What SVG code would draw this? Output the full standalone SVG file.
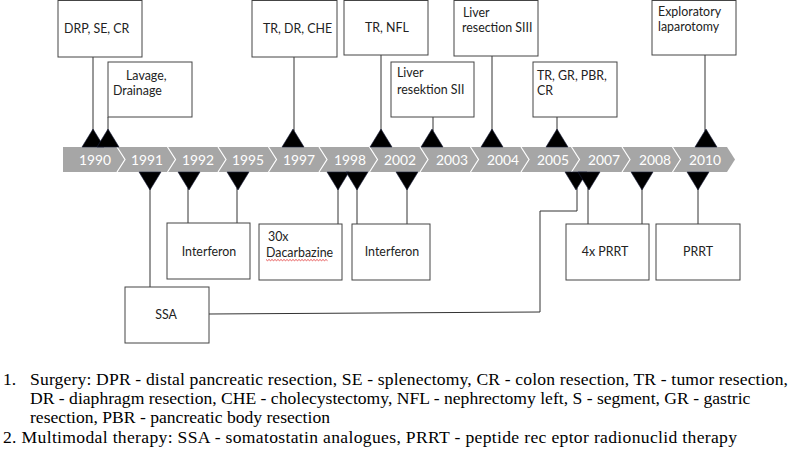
<svg xmlns="http://www.w3.org/2000/svg" width="797" height="451" viewBox="0 0 797 451">
<style>
.box{fill:#fff;stroke:#444;stroke-width:1}
.lbl{font-family:Lato,"Open Sans","Liberation Sans",sans-serif;font-size:12.4px;fill:#222}
.mid{text-anchor:middle}
.yr{font-family:Lato,"Open Sans","Liberation Sans",sans-serif;font-size:13.8px;fill:#fff;text-anchor:middle}
.ln{fill:none;stroke:#333;stroke-width:1}
.tri{fill:#000;stroke:#1a1f3a;stroke-width:0.6}
.sep{fill:none;stroke:#fff;stroke-width:1.2}
.note{font-family:"Liberation Serif","Times New Roman",serif;font-size:17.6px;fill:#000}
</style>
<defs>
<polygon id="up" class="tri" points="0,0 11,18 -11,18"/>
<polygon id="dn" class="tri" points="0,0 11,-18 -11,-18"/>
</defs>

<g id="timeline">
<polygon points="63,147 727,147 735,159.5 727,172 63,172" fill="#a6a6a6"/>
<g>
<polyline class="sep" points="117,147 125,159.5 117,172"/>
<polyline class="sep" points="167.5,147 175.5,159.5 167.5,172"/>
<polyline class="sep" points="218,147 226,159.5 218,172"/>
<polyline class="sep" points="268.5,147 276.5,159.5 268.5,172"/>
<polyline class="sep" points="319,147 327,159.5 319,172"/>
<polyline class="sep" points="369.5,147 377.5,159.5 369.5,172"/>
<polyline class="sep" points="420,147 428,159.5 420,172"/>
<polyline class="sep" points="470.5,147 478.5,159.5 470.5,172"/>
<polyline class="sep" points="521,147 529,159.5 521,172"/>
<polyline class="sep" points="571.5,147 579.5,159.5 571.5,172"/>
<polyline class="sep" points="622,147 630,159.5 622,172"/>
<polyline class="sep" points="672.5,147 680.5,159.5 672.5,172"/>
</g>
<text class="yr" x="95" y="164.5">1990</text>
<text class="yr" x="147" y="164.5">1991</text>
<text class="yr" x="198" y="164.5">1992</text>
<text class="yr" x="248" y="164.5">1995</text>
<text class="yr" x="299" y="164.5">1997</text>
<text class="yr" x="350" y="164.5">1998</text>
<text class="yr" x="400" y="164.5">2002</text>
<text class="yr" x="452" y="164.5">2003</text>
<text class="yr" x="503" y="164.5">2004</text>
<text class="yr" x="553" y="164.5">2005</text>
<text class="yr" x="604" y="164.5">2007</text>
<text class="yr" x="655" y="164.5">2008</text>
<text class="yr" x="705" y="164.5">2010</text>
</g>

<g id="connectors">
<line class="ln" x1="93" y1="57" x2="93" y2="131"/>
<line class="ln" x1="108" y1="117" x2="108" y2="131"/>
<line class="ln" x1="294" y1="57" x2="294" y2="131"/>
<line class="ln" x1="381" y1="55" x2="381" y2="131"/>
<line class="ln" x1="433" y1="117" x2="433" y2="131"/>
<line class="ln" x1="492" y1="56" x2="492" y2="131"/>
<line class="ln" x1="557" y1="117" x2="557" y2="131"/>
<line class="ln" x1="705" y1="55" x2="705" y2="131"/>
<line class="ln" x1="150" y1="188" x2="150" y2="287"/>
<line class="ln" x1="188" y1="188" x2="188" y2="223"/>
<line class="ln" x1="237" y1="188" x2="237" y2="223"/>
<line class="ln" x1="338" y1="188" x2="338" y2="224"/>
<line class="ln" x1="357" y1="188" x2="357" y2="224"/>
<line class="ln" x1="407" y1="188" x2="407" y2="224"/>
<polyline class="ln" points="209,314 540,312 540,211 577,211 577,188"/>
<line class="ln" x1="588" y1="188" x2="588" y2="224"/>
<line class="ln" x1="642" y1="188" x2="642" y2="224"/>
<line class="ln" x1="698" y1="188" x2="698" y2="224"/>
<use href="#up" x="93" y="129"/>
<use href="#up" x="108" y="129"/>
<use href="#up" x="293" y="129"/>
<use href="#up" x="381" y="129"/>
<use href="#up" x="432" y="129"/>
<use href="#up" x="492" y="129"/>
<use href="#up" x="557" y="129"/>
<use href="#up" x="706" y="129"/>
<use href="#dn" x="150" y="190"/>
<use href="#dn" x="189" y="190"/>
<use href="#dn" x="238" y="190"/>
<use href="#dn" x="338" y="190"/>
<use href="#dn" x="357" y="190"/>
<use href="#dn" x="407" y="190"/>
<use href="#dn" x="576" y="190"/>
<use href="#dn" x="589" y="190"/>
<use href="#dn" x="642" y="190"/>
<use href="#dn" x="698" y="190"/>
</g>

<g id="n-drp"><rect class="box" x="58" y="0.5" width="84" height="56.5"/><text class="lbl" x="64" y="33">DRP, SE, CR</text></g>
<g id="n-lavage"><rect class="box" x="108" y="62" width="84" height="55"/><text class="lbl" x="126" y="80">Lavage,</text><text class="lbl" x="113" y="95">Drainage</text></g>
<g id="n-trdr"><rect class="box" x="252" y="0.5" width="85" height="56.5"/><text class="lbl" x="263" y="33">TR, DR, CHE</text></g>
<g id="n-trnfl"><rect class="box" x="344" y="0.5" width="84" height="54.5"/><text class="lbl" x="365" y="32">TR, NFL</text></g>
<g id="n-sii"><rect class="box" x="391" y="62" width="83" height="55"/><text class="lbl" x="397" y="77">Liver</text><text class="lbl" x="397" y="94">resektion SII</text></g>
<g id="n-siii"><rect class="box" x="454" y="0.5" width="84" height="55.5"/><text class="lbl" x="463" y="17">Liver</text><text class="lbl" x="462" y="32">resection SIII</text></g>
<g id="n-trgr"><rect class="box" x="533" y="62" width="84" height="55"/><text class="lbl" x="537" y="80">TR, GR, PBR,</text><text class="lbl" x="537" y="95">CR</text></g>
<g id="n-expl"><rect class="box" x="652" y="0.5" width="84" height="54.5"/><text class="lbl" x="658" y="16">Exploratory</text><text class="lbl" x="658" y="31">laparotomy</text></g>

<g id="n-ifn1"><rect class="box" x="167" y="223" width="83" height="56"/><text class="lbl mid" x="209" y="256">Interferon</text></g>
<g id="n-dac"><rect class="box" x="259" y="224" width="83" height="56"/><text class="lbl" x="268" y="241">30x</text><text class="lbl" x="266" y="257">Dacarbazine</text><path d="M266,259.5 l1.5,1.2 l1.5,-1.2 l1.5,1.2 l1.5,-1.2 l1.5,1.2 l1.5,-1.2 l1.5,1.2 l1.5,-1.2 l1.5,1.2 l1.5,-1.2 l1.5,1.2 l1.5,-1.2 l1.5,1.2 l1.5,-1.2 l1.5,1.2 l1.5,-1.2 l1.5,1.2 l1.5,-1.2 l1.5,1.2 l1.5,-1.2 l1.5,1.2 l1.5,-1.2 l1.5,1.2 l1.5,-1.2 l1.5,1.2 l1.5,-1.2 l1.5,1.2 l1.5,-1.2 l1.5,1.2 l1.5,-1.2 l1.5,1.2 l1.5,-1.2 l1.5,1.2 l1.5,-1.2 l1.5,1.2 l1.5,-1.2 l1.5,1.2 l1.5,-1.2 l1.5,1.2 l1.5,-1.2 l1.5,1.2" fill="none" stroke="#e03030" stroke-width="0.8"/></g>
<g id="n-ifn2"><rect class="box" x="352" y="224" width="78" height="56"/><text class="lbl mid" x="392" y="256">Interferon</text></g>
<g id="n-ssa"><rect class="box" x="125" y="287" width="84" height="56"/><text class="lbl mid" x="166" y="319">SSA</text></g>
<g id="n-4prrt"><rect class="box" x="566" y="224" width="83" height="56"/><text class="lbl mid" x="605" y="256">4x PRRT</text></g>
<g id="n-prrt"><rect class="box" x="656" y="224" width="84" height="56"/><text class="lbl mid" x="698" y="256">PRRT</text></g>

<g id="notes">
<text class="note" x="3" y="385">1.</text>
<text class="note" x="30" y="385" textLength="758" lengthAdjust="spacing">Surgery: DPR - distal pancreatic resection, SE - splenectomy, CR - colon resection, TR - tumor resection,</text>
<text class="note" x="30" y="404">DR - diaphragm resection, CHE - cholecystectomy, NFL - nephrectomy left, S - segment, GR - gastric</text>
<text class="note" x="30" y="423">resection, PBR - pancreatic body resection</text>
<text class="note" x="3" y="443" textLength="734" lengthAdjust="spacing">2.  Multimodal therapy: SSA - somatostatin analogues, PRRT - peptide rec eptor radionuclid therapy</text>
</g>
</svg>
